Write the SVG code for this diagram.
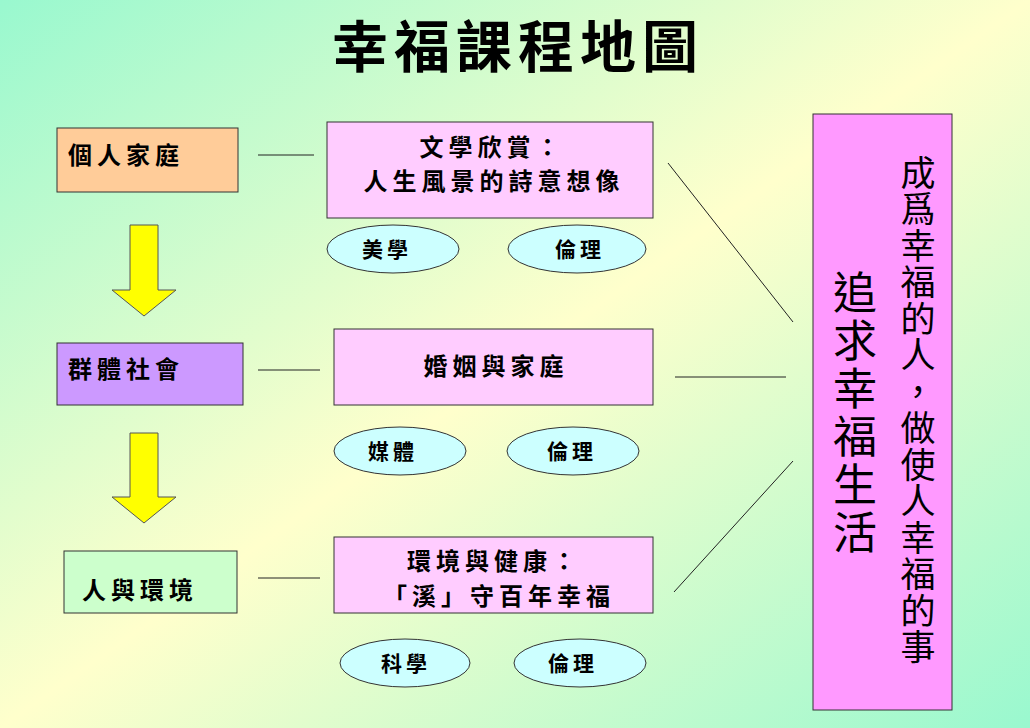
<svg xmlns="http://www.w3.org/2000/svg" width="1030" height="728" viewBox="0 0 1030 728">
<defs>
<linearGradient id="bg" x1="0" y1="0" x2="1" y2="1">
<stop offset="0" stop-color="#99F8CF"/>
<stop offset="0.5" stop-color="#FFFFCC"/>
<stop offset="1" stop-color="#99F8CF"/>
</linearGradient>
<style>
.t{font-family:"Noto Sans CJK TC","Noto Sans CJK SC",sans-serif;fill:#000;}
.box{stroke:#333;stroke-width:1;}
.lbl{font-size:24px;font-weight:bold;letter-spacing:5px;}
.mid{font-size:24px;font-weight:bold;letter-spacing:5px;text-anchor:middle;}
.ell{fill:#CCFFFF;stroke:#333;stroke-width:1;}
.elt{font-size:21px;font-weight:bold;letter-spacing:4px;text-anchor:middle;}
.arrow{fill:#FFFF00;stroke:#555;stroke-width:1;}
.conn{stroke:#222;stroke-width:1;fill:none;}
</style>
</defs>
<rect width="1030" height="728" fill="url(#bg)"/>
<text class="t" x="518" y="67" font-size="56" font-weight="bold" text-anchor="middle" letter-spacing="6">幸福課程地圖</text>

<g id="connectors">
<line class="conn" x1="258" y1="155" x2="314" y2="155"/>
<line class="conn" x1="258" y1="370" x2="320" y2="370"/>
<line class="conn" x1="258" y1="578" x2="320" y2="578"/>
<line class="conn" x1="668" y1="163" x2="793" y2="322"/>
<line class="conn" x1="675" y1="377" x2="786" y2="377"/>
<line class="conn" x1="674" y1="592" x2="793" y2="461"/>
</g>

<g id="arrow1"><polygon class="arrow" points="130,225 158,225 158,290 176,290 144,316 112,290 130,290"/></g>
<g id="arrow2"><polygon class="arrow" points="130,433 158,433 158,497 176,497 144,523 112,497 130,497"/></g>

<g id="node-personal">
<rect class="box" x="57" y="128" width="181" height="64" fill="#FFCC99"/>
<text class="t lbl" x="68" y="164">個人家庭</text>
</g>
<g id="node-society">
<rect class="box" x="57" y="343" width="186" height="62" fill="#CC99FF"/>
<text class="t lbl" x="68" y="378">群體社會</text>
</g>
<g id="node-env">
<rect class="box" x="64" y="551" width="173" height="62" fill="#CCFFCC"/>
<text class="t lbl" x="82" y="599">人與環境</text>
</g>

<g id="course-literature">
<rect class="box" x="327" y="122" width="326" height="96" fill="#FFCCFF"/>
<text class="t mid" x="492" y="156">文學欣賞：</text>
<text class="t mid" x="494" y="190">人生風景的詩意想像</text>
</g>
<g id="course-marriage">
<rect class="box" x="334" y="329" width="319" height="76" fill="#FFCCFF"/>
<text class="t mid" x="496" y="375">婚姻與家庭</text>
</g>
<g id="course-health">
<rect class="box" x="334" y="537" width="319" height="76" fill="#FFCCFF"/>
<text class="t mid" x="494" y="570">環境與健康：</text>
<text class="t mid" x="499" y="605">「溪」守百年幸福</text>
</g>

<g id="tag-aesthetics"><ellipse class="ell" cx="393" cy="249" rx="66" ry="24"/><text class="t elt" x="387" y="257">美學</text></g>
<g id="tag-ethics1"><ellipse class="ell" cx="577" cy="249" rx="69" ry="24"/><text class="t elt" x="580" y="257">倫理</text></g>
<g id="tag-media"><ellipse class="ell" cx="400" cy="451" rx="66" ry="24"/><text class="t elt" x="393" y="459">媒體</text></g>
<g id="tag-ethics2"><ellipse class="ell" cx="573" cy="451" rx="66" ry="24"/><text class="t elt" x="572" y="459">倫理</text></g>
<g id="tag-science"><ellipse class="ell" cx="405" cy="663" rx="65" ry="24"/><text class="t elt" x="406" y="671">科學</text></g>
<g id="tag-ethics3"><ellipse class="ell" cx="580" cy="663" rx="66" ry="24"/><text class="t elt" x="573" y="671">倫理</text></g>

<g id="goal">
<rect class="box" x="813" y="114" width="139" height="596" fill="#FF99FF"/>
<text class="t" x="855" y="270" font-size="44" writing-mode="vertical-rl" letter-spacing="4">追求幸福生活</text>
<text class="t" x="918" y="155" font-size="35" writing-mode="vertical-rl" letter-spacing="1.5" fill="#222">成爲幸福的人，做使人幸福的事</text>
</g>
</svg>
